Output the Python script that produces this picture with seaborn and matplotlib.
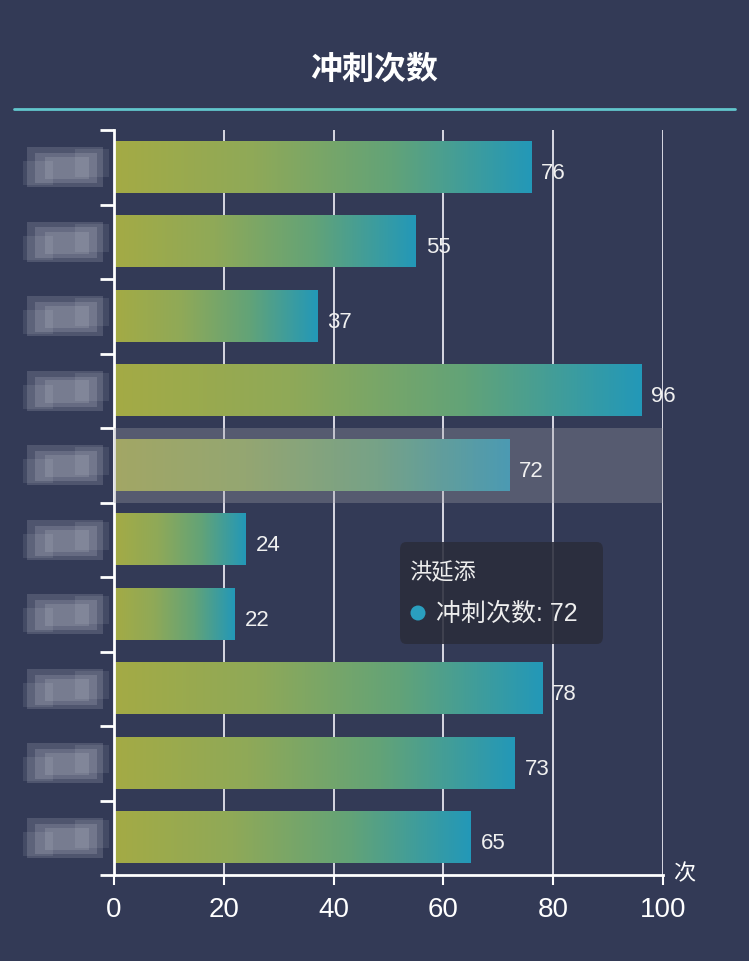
import numpy as np
import pandas as pd
import seaborn as sns
import matplotlib
matplotlib.use("Agg")
import matplotlib.pyplot as plt
from matplotlib.colors import LinearSegmentedColormap
from matplotlib.patches import FancyBboxPatch, Rectangle, Ellipse
from matplotlib.lines import Line2D

# data (player names are scribbled out in the reference, only the hovered one is readable)
players = ["队员1", "队员2", "队员3", "队员4", "洪延添", "队员6", "队员7", "队员8", "队员9", "队员10"]
sprints = [76, 55, 37, 96, 72, 24, 22, 78, 73, 65]
x_ticks = [0, 20, 40, 60, 80, 100]
hover_idx = 4

bg = "#333a56"
sns.set_style("dark")
plt.rcParams["font.family"] = ["Liberation Sans", "Noto Sans CJK SC", "DejaVu Sans"]

W, H = 749, 962
fig = plt.figure(figsize=(W / 100, H / 100), dpi=100, facecolor=bg)
ax = fig.add_axes([114 / W, 1 - 876 / H, (663 - 114) / W, (876 - 131) / H])
ax.set_facecolor(bg)

df = pd.DataFrame({"name": players, "count": sprints})
sns.barplot(data=df, x="count", y="name", orient="h", width=0.69,
            color="#a5aa3d", saturation=1, ax=ax, zorder=2)

# gradient fill per bar (olive -> teal)
cmap = LinearSegmentedColormap.from_list("bar", ["#a4ab45", "#8fa958", "#62a378", "#2398b8"])
grad = np.linspace(0, 1, 256).reshape(1, -1)
for p in ax.patches:
    x0, y0, w, h = p.get_x(), p.get_y(), p.get_width(), p.get_height()
    p.set_facecolor("none")
    p.set_edgecolor("none")
    ax.imshow(grad, extent=[x0, x0 + w, y0 + h, y0], aspect="auto", cmap=cmap,
              zorder=2, interpolation="bilinear")

ax.set_xlim(0, 100)
ax.set_ylim(len(players) - 0.5, -0.5)

# value labels
for i, v in enumerate(sprints):
    ax.text(v + 1.8, i + 0.07, str(v), va="center", ha="left", color="#f0f0f0",
            fontsize=16, zorder=4)

# hover band
ax.axhspan(hover_idx - 0.5, hover_idx + 0.5, color="#a0a0a8", alpha=0.33, lw=0, zorder=3)

# axes styling
ax.set_xticks(x_ticks)
ax.set_xticklabels([str(t) for t in x_ticks])
ax.grid(axis="x", color="#d8d8e2", lw=1.4, zorder=0)
ax.grid(axis="y", visible=False)
ax.set_axisbelow(True)
ax.set_xlabel("")
ax.set_ylabel("")
ax.set_yticklabels([""] * len(players))
ax.set_yticks(np.arange(-0.5, len(players) + 0.5, 1), minor=True)
ax.tick_params(axis="y", which="major", left=False, length=0)
ax.tick_params(axis="y", which="minor", left=True, length=10, width=2, color="white",
               direction="out")
ax.tick_params(axis="x", bottom=True, length=7, width=1.5, color="white", direction="out",
               labelcolor="white", labelsize=20, pad=8)
for s in ["top", "right"]:
    ax.spines[s].set_visible(False)
for s in ["left", "bottom"]:
    ax.spines[s].set_color("white")
    ax.spines[s].set_linewidth(2)

# scribbled-out name areas
offsets = [(-38, -20, 76, 40, 0.16), (-30, -14, 62, 30, 0.16), (-20, -10, 44, 22, 0.14),
           (-42, -6, 30, 24, 0.10), (10, -18, 34, 28, 0.10)]
for i in range(len(players)):
    yc = 168 + 74.5 * i
    xc = 65
    for dx, dy, w, h, a in offsets:
        fig.add_artist(Rectangle(((xc + dx) / W, 1 - (yc + dy + h) / H), w / W, h / H,
                                 transform=fig.transFigure, fc="#e2e4ec", alpha=a, lw=0))

# title and separator
fig.text(0.5, 1 - 70 / H, "冲刺次数", ha="center", va="center", fontsize=23,
         fontweight="bold", color="white", family=["Noto Sans CJK SC"])
fig.add_artist(Line2D([14 / W, 735 / W], [1 - 110 / H] * 2, color="#62c6cc", lw=2))

# unit label
fig.text(684 / W, 1 - 874 / H, "次", ha="center", va="center", fontsize=16, color="white",
         family=["Noto Sans CJK SC"])

# tooltip
fig.add_artist(FancyBboxPatch((400 / W, 1 - 645 / H), 203 / W, 102 / H,
                              boxstyle="round,pad=0,rounding_size=0.008",
                              transform=fig.transFigure, fc="#2b2d3b", alpha=0.88, ec="none",
                              zorder=5))
fig.text(409 / W, 1 - 573 / H, players[hover_idx], ha="left", va="center", fontsize=16,
         color="#eeeeee", zorder=6, family=["Noto Sans CJK SC"])
fig.add_artist(Ellipse((418 / W, 1 - 614 / H), 15 / W, 15 / H, transform=fig.transFigure,
                       fc="#2a9fbf", ec="none", zorder=6))
fig.text(436 / W, 1 - 614 / H, "冲刺次数: " + str(sprints[hover_idx]), ha="left",
         va="center", fontsize=18, color="#eeeeee", zorder=6)

plt.savefig("out.png", dpi=100, facecolor=bg)
